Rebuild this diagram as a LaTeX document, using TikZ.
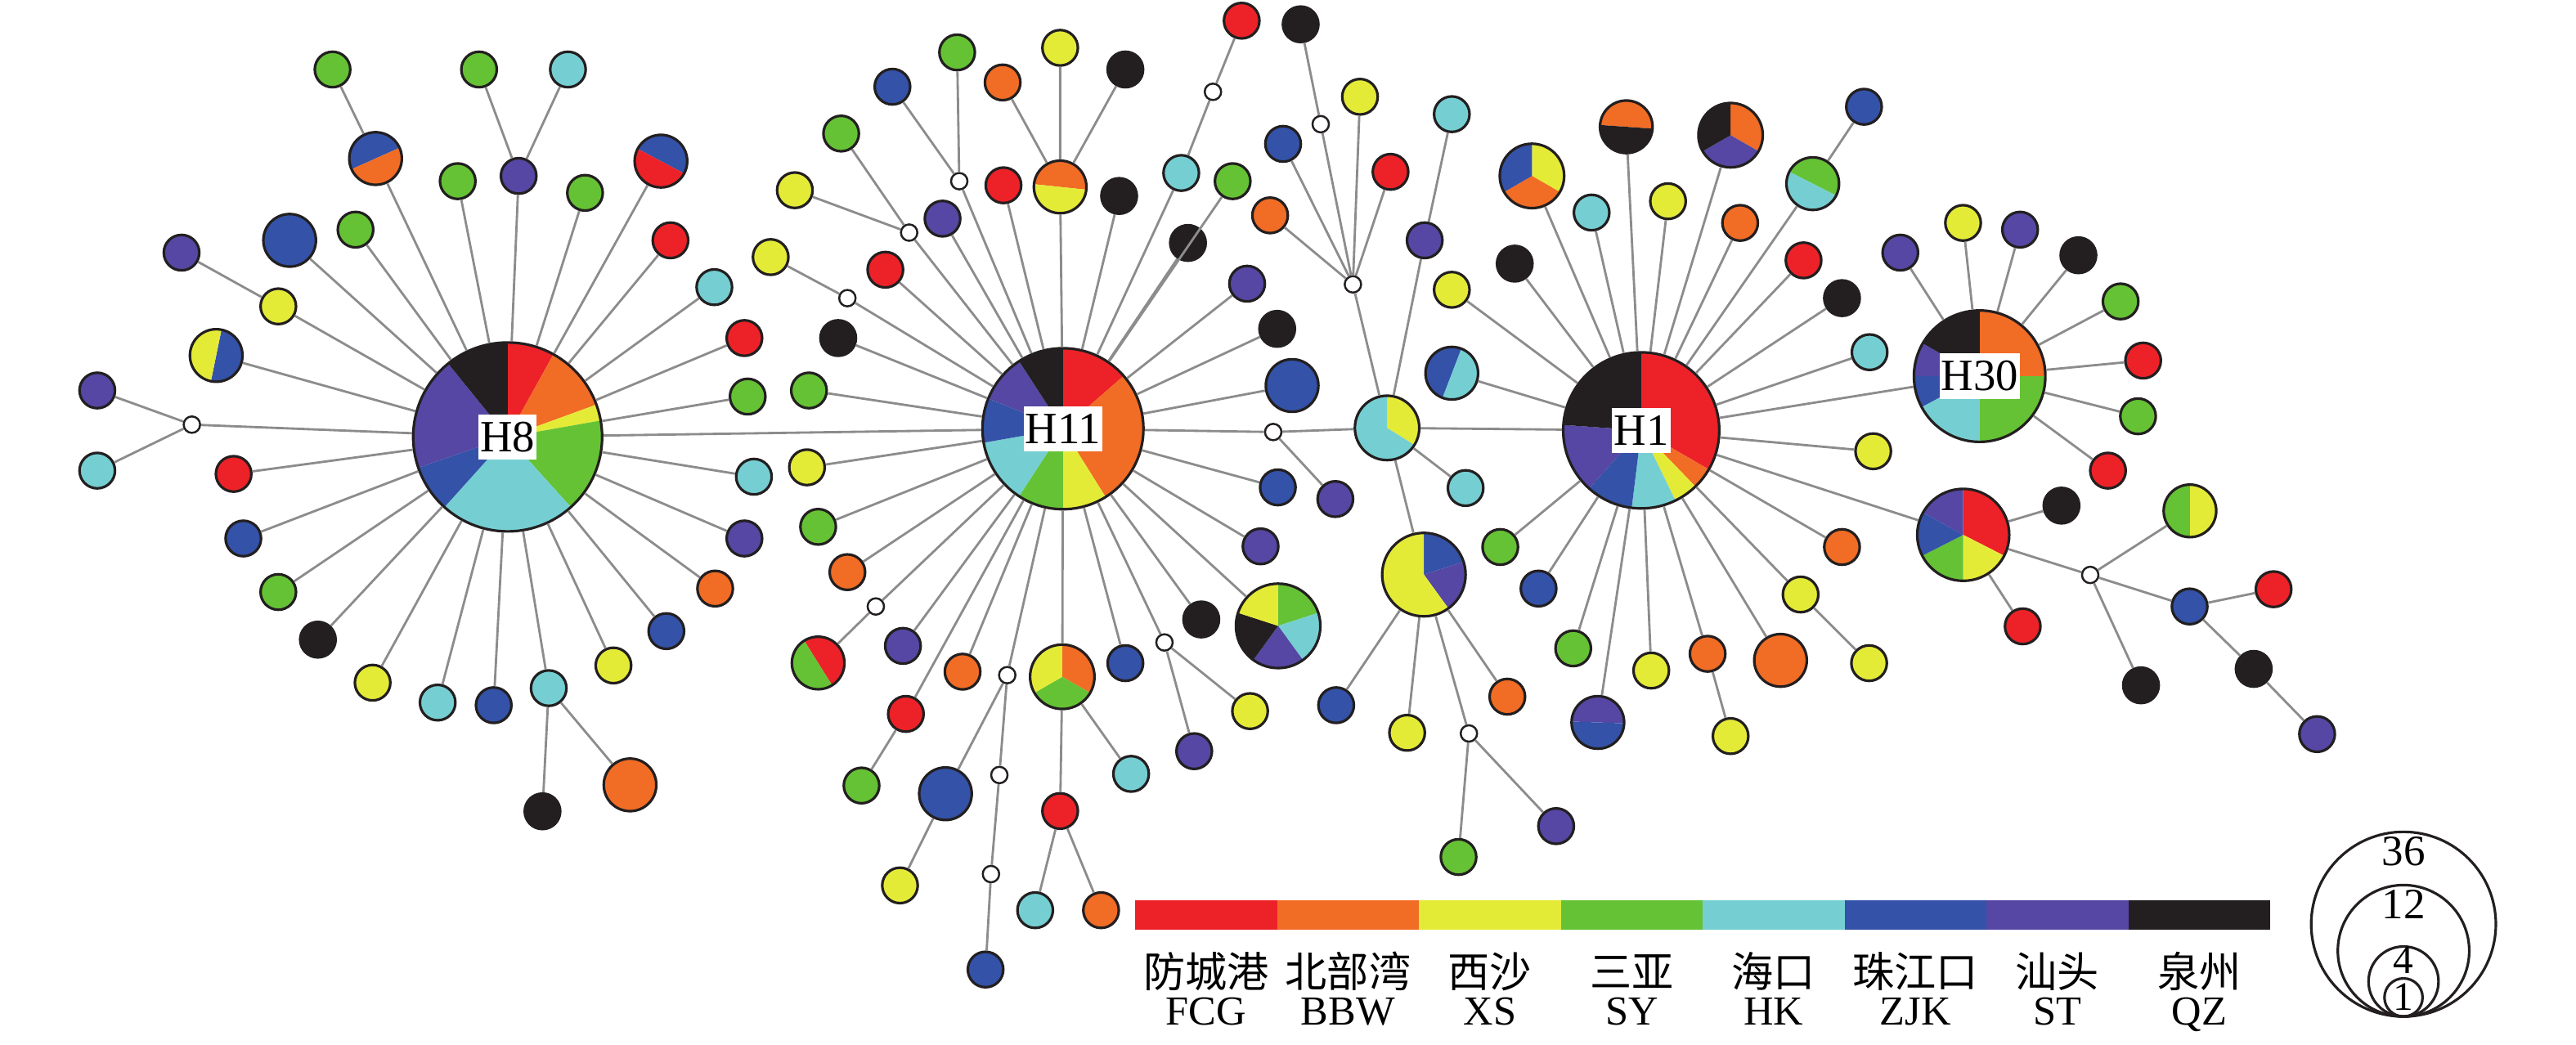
\documentclass[tikz,border=0pt]{standalone}
\usepackage{fontspec}
\setmainfont{Liberation Serif}
\newfontfamily\cjk{Noto Sans CJK SC}
\usepackage{tikz}
\definecolor{fcg}{HTML}{ED2228}
\definecolor{bbw}{HTML}{F16C25}
\definecolor{xs}{HTML}{E4EB37}
\definecolor{sy}{HTML}{65C234}
\definecolor{hk}{HTML}{75CFD2}
\definecolor{zjk}{HTML}{3352A8}
\definecolor{st}{HTML}{5547A3}
\definecolor{qz}{HTML}{231F20}
\tikzset{
  hap/.style={circle,draw=qz,line width=0.9pt,inner sep=0pt,minimum size=#1*0.4mm},
  one/.style={hap=10.8},
  two/.style={hap=16},
  mv/.style={circle,draw=qz,fill=white,line width=0.7pt,inner sep=0pt,minimum size=2mm},
  link/.style={black!45,line width=0.8pt},
  hublab/.style={fill=white,inner xsep=0.6pt,inner ysep=2.6pt,font=\fontsize{15.5}{16}\selectfont},
  zhlab/.style={anchor=base,font=\cjk\fontsize{14.5}{15}\selectfont},
  enlab/.style={anchor=base,font=\fontsize{14.3}{15}\selectfont},
  sizelab/.style={anchor=base,inner sep=0pt,font=\fontsize{15}{16}\selectfont}
}
% pie node: name, position, radius, colour/start/end (degrees clockwise from top)
\newcommand{\hpie}[4]{%
  \node[hap=#3,draw=none] (#1) at (#2) {};
  \foreach \pc/\pa/\pb in {#4}
    \fill[fill=\pc] (#1.center) -- ++({\pa-90}:#3)
      arc[start angle=\pa-90,end angle=\pb-90,radius=#3] -- cycle;
  \draw[qz,line width=0.9pt] (#1.center) circle[radius=#3];
}

\begin{document}
\begin{tikzpicture}[x=0.2mm,y=-0.2mm]
  \useasboundingbox (0,0) rectangle (1568,636);
  % hubs
  \hpie{H8}{309,266}{57.5}{fcg/0/29,bbw/29/70,xs/70/80,sy/80/138,hk/138/222,zjk/222/251,st/251/321,qz/321/360}
  \hpie{H11}{647,261}{49}{fcg/0/49,bbw/49/148,xs/148/180,sy/180/213,hk/213/260,zjk/260/292,st/292/327,qz/327/360}
  \hpie{H1}{999,262}{47.5}{fcg/0/120,bbw/120/136,xs/136/154,hk/154/187,zjk/187/222,st/222/274,qz/274/360}
  \hpie{H30}{1205,229}{40}{bbw/0/90,sy/90/180,hk/180/242,zjk/242/270,st/270/300,qz/300/360}

  % around H8
  \node[one,fill=sy] (a1) at (202.4,42.3) {};
  \hpie{a2}{228.6,96.5}{16}{zjk/-114/66,bbw/66/246}
  \node[one,fill=sy] (a3) at (291.6,42.3) {};
  \node[one,fill=hk] (a4) at (345.7,42.3) {};
  \node[one,fill=st] (a5) at (315.7,107.1) {};
  \node[one,fill=sy] (a6) at (278.6,110.3) {};
  \node[one,fill=sy] (a7) at (356.1,117.4) {};
  \hpie{a8}{402.3,98.1}{16}{zjk/-62/118,fcg/118/298}
  \node[one,fill=fcg] (a9) at (408.1,146.3) {};
  \node[one,fill=hk] (a10) at (434.8,174.8) {};
  \node[one,fill=fcg] (a11) at (453.1,205.8) {};
  \node[one,fill=sy] (a12) at (455.1,241.4) {};
  \node[one,fill=hk] (a13) at (458.9,290.2) {};
  \node[one,fill=st] (a14) at (453.1,327.8) {};
  \node[one,fill=bbw] (a15) at (435.3,358.3) {};
  \node[one,fill=zjk] (a16) at (405.6,384.2) {};
  \node[one,fill=xs] (a17) at (373.4,405.1) {};
  \node[one,fill=hk] (a18) at (334,418.9) {};
  \node[one,fill=qz] (a19) at (330.2,493.9) {};
  \node[two,fill=bbw] (a20) at (383.5,477.8) {};
  \node[one,fill=zjk] (a21) at (300.5,429.3) {};
  \node[one,fill=hk] (a22) at (266.4,427.7) {};
  \node[one,fill=xs] (a23) at (226.8,415.6) {};
  \node[one,fill=qz] (a24) at (193.5,389.4) {};
  \node[one,fill=sy] (a25) at (169.4,360.4) {};
  \node[one,fill=zjk] (a26) at (148.1,327.8) {};
  \node[one,fill=fcg] (a27) at (142.2,288.5) {};
  \node[mv] (m1) at (116.8,258.5) {};
  \node[one,fill=st] (a28) at (59.2,237.7) {};
  \node[one,fill=hk] (a29) at (59.2,286.5) {};
  \hpie{a30}{131.6,216.4}{16}{zjk/11.6/191.6,xs/191.6/371.6}
  \node[one,fill=xs] (a31) at (169.4,186.5) {};
  \node[one,fill=st] (a32) at (110.5,153.8) {};
  \node[two,fill=zjk] (a33) at (176.3,146.3) {};
  \node[one,fill=sy] (a34) at (216.4,139.8) {};

  % around H11
  \node[one,fill=qz] (b1) at (510.2,205.8) {};
  \node[one,fill=sy] (b2) at (492.4,237.7) {};
  \node[one,fill=xs] (b3) at (491.2,284.5) {};
  \node[one,fill=sy] (b4) at (498,320.7) {};
  \node[one,fill=bbw] (b5) at (515.8,348.3) {};
  \node[mv] (m2) at (533.1,369.2) {};
  \hpie{b6}{498,403.6}{16}{fcg/-32/148,sy/148/328}
  \node[one,fill=st] (b7) at (549.6,393.2) {};
  \node[one,fill=fcg] (b8) at (551.4,434.6) {};
  \node[one,fill=sy] (b9) at (524.4,478.2) {};
  \node[one,fill=bbw] (b10) at (585.9,408.9) {};
  \node[mv] (m3) at (613.1,411) {};
  \node[two,fill=zjk] (b11) at (575.5,483.2) {};
  \node[one,fill=xs] (b12) at (547.8,539) {};
  \node[mv] (m4) at (608.3,471.8) {};
  \node[mv] (m5) at (603.2,532.1) {};
  \node[one,fill=zjk] (b13) at (599.9,590.2) {};
  \hpie{b14}{646.6,412}{19.6}{bbw/0/120,sy/120/240,xs/240/360}
  \node[one,fill=hk] (b15) at (688.5,471.1) {};
  \node[one,fill=fcg] (b16) at (645.3,493.7) {};
  \node[one,fill=hk] (b17) at (630.1,554.1) {};
  \node[one,fill=bbw] (b18) at (670.2,554.1) {};
  \node[one,fill=zjk] (b19) at (685,403.7) {};
  \node[mv] (m6) at (708.8,391.1) {};
  \node[one,fill=xs] (b20) at (760.9,432.9) {};
  \node[one,fill=st] (b21) at (726.9,457.3) {};
  \node[one,fill=qz] (b22) at (731.2,377.1) {};
  \hpie{b23}{778,381}{25.7}{sy/0/72,hk/72/144,st/144/216,qz/216/288,xs/288/360}
  \node[one,fill=st] (b24) at (767.3,332.6) {};
  \node[one,fill=zjk] (b25) at (777.8,296.7) {};
  \node[mv] (m7) at (775,263) {};
  \node[one,fill=st] (b26) at (812.8,303.8) {};
  \node[two,fill=zjk] (b27) at (786.5,234.7) {};
  \node[one,fill=qz] (b28) at (777.4,200.2) {};
  \node[one,fill=st] (b29) at (759.1,172.7) {};
  \node[one,fill=qz] (b30) at (723.1,147.9) {};
  \node[one,fill=sy] (b31) at (750.3,110.3) {};
  \node[one,fill=hk] (b32) at (719,105.3) {};
  \node[mv] (m8) at (738.3,55.9) {};
  \node[one,fill=fcg] (b33) at (755.8,12.6) {};
  \node[one,fill=qz] (b34) at (681.2,119.3) {};
  \hpie{b35}{645.3,113.8}{16}{bbw/-84/96,xs/96/276}
  \node[one,fill=bbw] (b36) at (610.3,50.2) {};
  \node[one,fill=xs] (b37) at (645.3,29.1) {};
  \node[one,fill=qz] (b38) at (685,42.3) {};
  \node[one,fill=fcg] (b39) at (610.8,112.8) {};
  \node[mv] (m9) at (583.9,110.3) {};
  \node[one,fill=zjk] (b40) at (543.2,52.8) {};
  \node[one,fill=sy] (b41) at (582.6,31.9) {};
  \node[one,fill=st] (b42) at (573.7,133.1) {};
  \node[mv] (m10) at (553.4,141.6) {};
  \node[one,fill=xs] (b43) at (483.8,115.8) {};
  \node[one,fill=sy] (b44) at (512,81.3) {};
  \node[one,fill=fcg] (b45) at (538.9,164.2) {};
  \node[mv] (m11) at (515.8,181.5) {};
  \node[one,fill=xs] (b46) at (469.1,156.5) {};

  % middle
  \node[mv] (m12) at (823.5,173.1) {};
  \node[one,fill=bbw] (b47) at (773.1,131.1) {};
  \node[one,fill=zjk] (b48) at (781,87.6) {};
  \node[mv] (m13) at (803.9,75.6) {};
  \node[one,fill=qz] (b49) at (791.7,14.8) {};
  \node[one,fill=xs] (b50) at (827.8,58.9) {};
  \node[one,fill=fcg] (b51) at (846.4,104.6) {};
  \hpie{c1}{844.3,260.5}{19.6}{xs/0/122,hk/122/360}
  \node[one,fill=st] (c2) at (867.2,146.3) {};
  \node[one,fill=hk] (c3) at (883.7,69.5) {};
  \node[one,fill=hk] (c4) at (892.1,297.1) {};
  \hpie{c5}{866.7,349.8}{25.4}{zjk/0/72,st/72/144,xs/144/360}
  \node[one,fill=zjk] (c6) at (813.3,429.3) {};
  \node[one,fill=xs] (c7) at (856.5,446.1) {};
  \node[mv] (m14) at (894.1,446.5) {};
  \node[one,fill=sy] (c8) at (887.8,521.7) {};
  \node[one,fill=st] (c9) at (947.2,502.9) {};
  \node[one,fill=bbw] (c10) at (917.5,424.1) {};

  % around H1
  \hpie{d1}{883.7,227.2}{16}{hk/21/201,zjk/201/381}
  \node[one,fill=xs] (d2) at (883.7,176.4) {};
  \node[one,fill=qz] (d3) at (922,160.5) {};
  \hpie{d4}{932.5,107.1}{19.6}{xs/0/120,bbw/120/240,zjk/240/360}
  \node[one,fill=hk] (d5) at (968.8,129.4) {};
  \hpie{d6}{989.9,77.2}{16}{bbw/-86/94,qz/94/274}
  \node[one,fill=xs] (d7) at (1015.3,122.5) {};
  \hpie{d8}{1053.4,82.3}{19.6}{bbw/0/120,st/120/240,qz/240/360}
  \node[one,fill=bbw] (d9) at (1059.2,135.7) {};
  \hpie{d10}{1103.4,111.8}{16}{sy/-63/117,hk/117/297}
  \node[one,fill=zjk] (d11) at (1134.6,65) {};
  \node[one,fill=fcg] (d12) at (1097.8,158.5) {};
  \node[one,fill=qz] (d13) at (1121.2,181.5) {};
  \node[one,fill=hk] (d14) at (1138,214.4) {};
  \node[one,fill=xs] (d15) at (1140.2,274.7) {};
  \node[one,fill=bbw] (d16) at (1121.2,333) {};
  \node[one,fill=xs] (d17) at (1096,361.9) {};
  \node[one,fill=xs] (d18) at (1137.7,403.7) {};
  \node[two,fill=bbw] (d19) at (1083.8,402) {};
  \node[one,fill=bbw] (d20) at (1039.4,398) {};
  \node[one,fill=xs] (d21) at (1053.4,448.1) {};
  \node[one,fill=xs] (d22) at (1005.1,408.2) {};
  \hpie{d23}{972.6,439.8}{16}{st/-88/92,zjk/92/272}
  \node[one,fill=sy] (d24) at (957.6,394.7) {};
  \node[one,fill=zjk] (d25) at (936.5,358.3) {};
  \node[one,fill=sy] (d26) at (913.2,333) {};

  % around H30
  \node[one,fill=st] (g1) at (1156.7,153.8) {};
  \node[one,fill=xs] (g2) at (1194.9,135.7) {};
  \node[one,fill=st] (g3) at (1229.6,139.8) {};
  \node[one,fill=qz] (g4) at (1265.1,155.4) {};
  \node[one,fill=sy] (g5) at (1290.8,183.5) {};
  \node[one,fill=fcg] (g6) at (1304.5,219.5) {};
  \node[one,fill=sy] (g7) at (1301.4,253.4) {};
  \node[one,fill=fcg] (g8) at (1283.1,286.5) {};
  \hpie{e1}{1195,325.6}{28}{fcg/0/117,xs/117/180,sy/180/243,zjk/243/299,st/299/360}
  \node[one,fill=qz] (e2) at (1254.8,307.8) {};
  \node[one,fill=fcg] (e3) at (1231.2,381.3) {};
  \node[mv] (m15) at (1272.3,350) {};
  \hpie{e4}{1333,311}{16}{xs/0/180,sy/180/360}
  \node[one,fill=qz] (e5) at (1303.2,417.2) {};
  \node[one,fill=zjk] (e6) at (1332.8,369.2) {};
  \node[one,fill=fcg] (e7) at (1383.9,358.7) {};
  \node[one,fill=qz] (e8) at (1371.8,407.2) {};
  \node[one,fill=st] (e9) at (1410.4,446.9) {};

  % connectors
  \draw[link] (H8) -- (H11) (H11) -- (m7) (m7) -- (c1) (c1) -- (H1)
    (H1) -- (H30) (H1) -- (e1)
    (a2) -- (a1) (H8) -- (a2) (a5) -- (a3) (a5) -- (a4) (H8) -- (a5)
    (H8) -- (a6) (H8) -- (a7) (H8) -- (a8) (H8) -- (a9) (H8) -- (a10)
    (H8) -- (a11) (H8) -- (a12) (H8) -- (a13) (H8) -- (a14) (H8) -- (a15)
    (H8) -- (a16) (H8) -- (a17) (H8) -- (a18) (a18) -- (a19) (a18) -- (a20)
    (H8) -- (a21) (H8) -- (a22) (H8) -- (a23) (H8) -- (a24) (H8) -- (a25)
    (H8) -- (a26) (H8) -- (a27) (H8) -- (m1) (m1) -- (a28) (m1) -- (a29)
    (H8) -- (a30) (H8) -- (a31) (a31) -- (a32) (H8) -- (a33) (H8) -- (a34)
    (H11) -- (b1) (H11) -- (b2) (H11) -- (b3) (H11) -- (b4) (H11) -- (b5)
    (H11) -- (m2) (m2) -- (b6) (H11) -- (b7) (H11) -- (b8) (b8) -- (b9)
    (H11) -- (b10) (H11) -- (m3) (m3) -- (b11) (b11) -- (b12) (m3) -- (m4)
    (m4) -- (m5) (m5) -- (b13) (H11) -- (b14) (b14) -- (b15) (b14) -- (b16)
    (b16) -- (b17) (b16) -- (b18) (H11) -- (b19) (H11) -- (m6) (m6) -- (b20)
    (m6) -- (b21) (H11) -- (b22) (H11) -- (b23) (H11) -- (b24) (H11) -- (b25)
    (m7) -- (b26) (H11) -- (b27) (H11) -- (b28) (H11) -- (b29) (H11) -- (b30)
    (H11) -- (b31) (H11) -- (b32) (b32) -- (m8) (m8) -- (b33) (H11) -- (b34)
    (H11) -- (b35) (b35) -- (b36) (b35) -- (b37) (b35) -- (b38) (H11) -- (b39)
    (H11) -- (m9) (m9) -- (b40) (m9) -- (b41) (H11) -- (b42) (H11) -- (m10)
    (m10) -- (b43) (m10) -- (b44) (H11) -- (b45) (H11) -- (m11) (m11) -- (b46)
    (m12) -- (b47) (m12) -- (b48) (m12) -- (m13) (m13) -- (b49) (m12) -- (b50)
    (m12) -- (b51) (m12) -- (c1) (c1) -- (c2) (c2) -- (c3) (c1) -- (c4)
    (c1) -- (c5) (c5) -- (c6) (c5) -- (c7) (c5) -- (m14) (m14) -- (c8)
    (m14) -- (c9) (c5) -- (c10)
    (H1) -- (d1) (H1) -- (d2) (H1) -- (d3) (H1) -- (d4) (H1) -- (d5)
    (H1) -- (d6) (H1) -- (d7) (H1) -- (d8) (H1) -- (d9) (H1) -- (d10)
    (d10) -- (d11) (H1) -- (d12) (H1) -- (d13) (H1) -- (d14) (H1) -- (d15)
    (H1) -- (d16) (H1) -- (d17) (d17) -- (d18) (H1) -- (d19) (H1) -- (d20)
    (d20) -- (d21) (H1) -- (d22) (H1) -- (d23) (H1) -- (d24) (H1) -- (d25)
    (H1) -- (d26)
    (H30) -- (g1) (H30) -- (g2) (H30) -- (g3) (H30) -- (g4) (H30) -- (g5)
    (H30) -- (g6) (H30) -- (g7) (H30) -- (g8)
    (e1) -- (e2) (e1) -- (e3) (e1) -- (m15) (m15) -- (e4) (m15) -- (e5)
    (m15) -- (e6) (e6) -- (e7) (e6) -- (e8) (e8) -- (e9);

  % hub labels
  \node[hublab] (H8lab) at (H8) {H8};
  \node[hublab] (H11lab) at (H11) {H11};
  \node[hublab] (H1lab) at (H1) {H1};
  \node[hublab] (H30lab) at (H30) {H30};

  % colour key
  \foreach \pc/\zh/\en [count=\i from 0] in {fcg/防城港/FCG,bbw/北部湾/BBW,
      xs/西沙/XS,sy/三亚/SY,hk/海口/HK,zjk/珠江口/ZJK,st/汕头/ST,qz/泉州/QZ}{
    \fill[fill=\pc] ({691+86.35*\i},547.8) rectangle ++(86.35,18.2);
    \node[zhlab] (zh\i) at ({734.2+86.35*\i},601) {\zh};
    \node[enlab] (en\i) at ({734.2+86.35*\i},624) {\en};
  }

  % size key
  \foreach \n/\r/\b/\fs in {36/56.2/527/15,12/40/559.2/15,4/21.3/592.5/14,1/11.6/615/14}{
    \node[hap=\r] (sz\n) at (1463,{618.8-\r}) {};
    \node[sizelab,font=\fontsize{\fs}{16}\selectfont] (szl\n) at (1463,\b) {\n};
  }
\end{tikzpicture}
\end{document}
